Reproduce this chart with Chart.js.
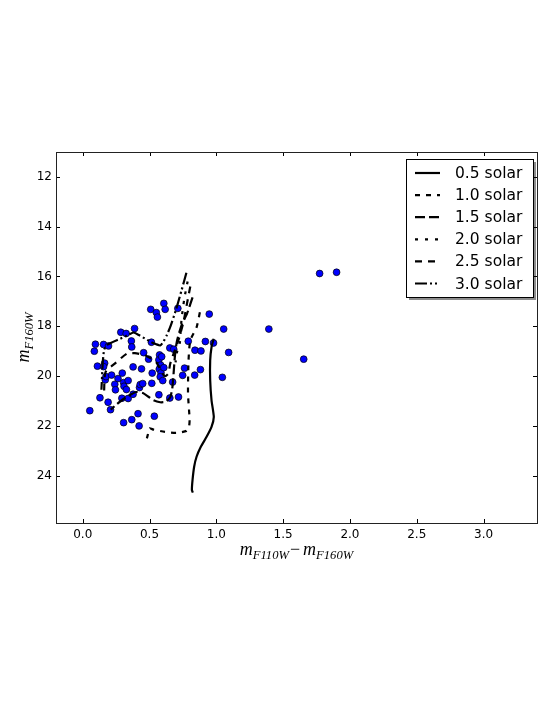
<!DOCTYPE html>
<html lang="en">
<head>
    <meta charset="UTF-8">
    <title>CMD isochrones</title>
    <script src="https://cdn.jsdelivr.net/npm/chart.js"></script>
    <style>
        html, body { margin: 0; padding: 0; background: #fff; }
        #caixa { width: 553px; height: 715px; }
    </style>
</head>
<body>
    <div id="caixa"><canvas id="grafico"></canvas></div>

    <script>
        // stars: colour (F110W - F160W) and magnitude F160W
        const starColor = [0.053, 0.087, 0.095, 0.110, 0.156, 0.164, 0.156, 0.169, 0.174, 0.129,
            0.190, 0.208, 0.193, 0.216, 0.264, 0.240, 0.245, 0.285, 0.325, 0.296,
            0.306, 0.309, 0.327, 0.340, 0.293, 0.340, 0.306, 0.367, 0.364, 0.367,
            0.377, 0.388, 0.377, 0.414, 0.422, 0.425, 0.430, 0.449, 0.440, 0.456,
            0.509, 0.551, 0.559, 0.607, 0.617, 0.514, 0.493, 0.520, 0.517, 0.536,
            0.570, 0.575, 0.570, 0.583, 0.573, 0.586, 0.580, 0.599, 0.591, 0.607,
            0.712, 0.652, 0.681, 0.673, 0.652, 0.717, 0.762, 0.748, 0.790, 0.840,
            0.838, 0.885, 0.881, 0.918, 0.947, 0.979, 1.055, 1.092, 1.045, 1.393,
            1.654, 1.773, 1.900];
        const starMag = [21.39, 19.00, 18.72, 19.60, 18.73, 19.48, 19.62, 20.15, 20.02, 20.87,
            21.05, 21.35, 18.79, 19.96, 20.10, 20.33, 20.55, 18.24, 18.29, 19.88,
            20.26, 20.41, 20.54, 20.18, 20.89, 20.90, 21.87, 21.75, 18.59, 18.83,
            19.63, 18.09, 20.73, 21.51, 22.00, 20.46, 20.34, 20.30, 19.71, 19.06,
            17.32, 17.45, 17.63, 17.08, 17.32, 18.64, 19.32, 19.88, 20.29, 21.61,
            20.75, 19.15, 19.35, 19.56, 19.72, 19.87, 20.03, 20.18, 19.22, 19.66,
            17.28, 18.87, 18.92, 20.24, 20.88, 20.84, 19.68, 19.97, 18.60, 18.96,
            19.96, 18.99, 19.74, 18.61, 17.51, 18.67, 18.11, 19.05, 20.05, 18.11,
            19.32, 15.88, 15.83];

        // isochrones
        const iso05Color = [0.980, 0.964, 0.954, 0.954, 0.964, 0.981, 0.964, 0.927, 0.884, 0.852, 0.834, 0.822, 0.817, 0.824];
        const iso05Mag = [18.50, 18.84, 19.37, 20.17, 20.97, 21.64, 22.04, 22.44, 22.84, 23.24, 23.64, 24.17, 24.57, 24.68];

        const iso10Color = [0.877, 0.852, 0.805, 0.792, 0.788, 0.800, 0.795, 0.777, 0.700, 0.615, 0.530, 0.500, 0.490, 0.480];
        const iso10Mag = [17.44, 18.04, 18.57, 19.37, 20.70, 21.75, 22.05, 22.20, 22.28, 22.24, 22.15, 22.10, 22.30, 22.50];

        const iso15Color = [0.822, 0.780, 0.740, 0.705, 0.690, 0.680, 0.670, 0.655, 0.620, 0.580, 0.530, 0.490, 0.450, 0.400, 0.340, 0.290, 0.240, 0.210];
        const iso15Mag = [16.84, 17.50, 17.95, 18.60, 19.20, 19.90, 20.50, 20.85, 21.03, 21.05, 20.97, 20.82, 20.68, 20.64, 20.80, 20.98, 21.20, 21.35];

        const iso20Color = [0.785, 0.760, 0.740, 0.733, 0.727, 0.705, 0.695];
        const iso20Mag = [16.20, 16.90, 17.70, 18.20, 18.65, 19.05, 19.45];

        const iso25Color = [0.805, 0.780, 0.755, 0.720, 0.680, 0.655, 0.640, 0.615, 0.590, 0.550, 0.470, 0.390, 0.330, 0.240, 0.170, 0.160];
        const iso25Mag = [16.40, 17.10, 17.80, 18.50, 19.10, 19.50, 19.90, 20.00, 19.84, 19.44, 19.17, 19.08, 19.10, 19.50, 19.85, 20.60];

        const iso30Color = [0.776, 0.740, 0.700, 0.660, 0.630, 0.600, 0.580, 0.550, 0.500, 0.420, 0.380, 0.340, 0.280, 0.180, 0.160, 0.150, 0.145, 0.140];
        const iso30Mag = [15.85, 16.55, 17.30, 17.95, 18.35, 18.65, 18.77, 18.72, 18.60, 18.35, 18.25, 18.35, 18.50, 18.75, 18.95, 19.45, 20.00, 20.55];

        const isoLabels = ['0.5 solar', '1.0 solar', '1.5 solar', '2.0 solar', '2.5 solar', '3.0 solar'];
        const isoDashes = [[], [5, 6], [10, 4], [3, 7], [7, 6], [12, 3, 2, 3, 2, 3]];
        const isoCurves = [
            [iso05Color, iso05Mag], [iso10Color, iso10Mag], [iso15Color, iso15Mag],
            [iso20Color, iso20Mag], [iso25Color, iso25Mag], [iso30Color, iso30Mag]
        ];

        function pares(xs, ys) {
            return xs.map((x, i) => ({ x: x, y: ys[i] }));
        }

        const datasets = isoCurves.map((c, i) => ({
            label: isoLabels[i],
            data: pares(c[0], c[1]),
            showLine: true,
            borderColor: '#000',
            borderWidth: 2.2,
            borderDash: isoDashes[i],
            pointRadius: 0,
            tension: 0.2
        }));
        datasets.push({
            data: pares(starColor, starMag),
            pointRadius: 3.4,
            pointBackgroundColor: '#0000ff',
            pointBorderColor: '#000',
            pointBorderWidth: 0.7,
            showLine: false
        });

        // axis titles with subscripts, drawn like mathtext
        function escreveMath(ctx, partes, cx, base) {
            let total = 0;
            partes.forEach(p => {
                ctx.font = 'italic ' + p.size + 'px "Liberation Serif"';
                p.w = ctx.measureText(p.t).width + (p.gap || 0);
                total += p.w;
            });
            let x = cx - total / 2;
            partes.forEach(p => {
                ctx.font = (p.upright ? '' : 'italic ') + p.size + 'px "Liberation Serif"';
                ctx.fillText(p.t, x + (p.gap || 0) / 2, base + (p.sub ? 4 : 0));
                x += p.w;
            });
        }

        const moldura = {
            id: 'moldura',
            afterDraw(chart) {
                const ctx = chart.ctx;
                const a = chart.chartArea;
                const sx = chart.scales.x;
                const sy = chart.scales.y;
                ctx.save();

                // inward ticks on all four sides
                ctx.strokeStyle = '#000';
                ctx.lineWidth = 1;
                ctx.beginPath();
                sx.ticks.forEach(t => {
                    const p = Math.round(sx.getPixelForValue(t.value)) + 0.5;
                    ctx.moveTo(p, a.bottom); ctx.lineTo(p, a.bottom - 4);
                    ctx.moveTo(p, a.top); ctx.lineTo(p, a.top + 4);
                });
                sy.ticks.forEach(t => {
                    const p = Math.round(sy.getPixelForValue(t.value)) + 0.5;
                    ctx.moveTo(a.left, p); ctx.lineTo(a.left + 4, p);
                    ctx.moveTo(a.right, p); ctx.lineTo(a.right - 4, p);
                });
                ctx.stroke();
                ctx.strokeStyle = '#222';
                ctx.strokeRect(Math.round(a.left) + 0.5, Math.round(a.top) + 0.5,
                    Math.round(a.right - a.left), Math.round(a.bottom - a.top));

                // legend with shadow
                const itens = chart.data.datasets.filter(d => d.label);
                const bx = a.right - 131, by = a.top + 7, bw = 127, bh = 138;
                ctx.fillStyle = 'rgba(0,0,0,0.45)';
                ctx.fillRect(bx + 3, by + 3, bw, bh);
                ctx.fillStyle = '#fff';
                ctx.fillRect(bx, by, bw, bh);
                ctx.strokeStyle = '#000';
                ctx.lineWidth = 1;
                ctx.strokeRect(Math.round(bx) + 0.5, Math.round(by) + 0.5, bw, bh);
                ctx.font = '15.5px "DejaVu Sans"';
                ctx.textBaseline = 'middle';
                itens.forEach((d, i) => {
                    const yy = by + 14 + i * 22.1;
                    ctx.beginPath();
                    ctx.setLineDash(d.borderDash || []);
                    ctx.lineWidth = d.borderWidth;
                    ctx.strokeStyle = d.borderColor;
                    ctx.moveTo(bx + 9, yy);
                    ctx.lineTo(bx + 34, yy);
                    ctx.stroke();
                    ctx.setLineDash([]);
                    ctx.fillStyle = '#000';
                    ctx.fillText(d.label, bx + 49, yy + 1);
                });

                // axis titles
                ctx.fillStyle = '#000';
                ctx.textBaseline = 'alphabetic';
                ctx.textAlign = 'left';
                escreveMath(ctx, [
                    { t: 'm', size: 18 },
                    { t: 'F110W', size: 12.6, sub: true },
                    { t: '\u2212', size: 18, upright: true, gap: 2 },
                    { t: 'm', size: 18 },
                    { t: 'F160W', size: 12.6, sub: true }
                ], (a.left + a.right) / 2, 555);
                ctx.translate(29, (a.top + a.bottom) / 2);
                ctx.rotate(-Math.PI / 2);
                escreveMath(ctx, [
                    { t: 'm', size: 18 },
                    { t: 'F160W', size: 12.6, sub: true }
                ], 0, 0);
                ctx.restore();
            }
        };

        const fonteTicks = { family: 'DejaVu Sans', size: 12 };

        const configuracoes = {
            type: 'scatter',
            data: { datasets: datasets },
            options: {
                responsive: true,
                maintainAspectRatio: false,
                animation: false,
                layout: { padding: { left: 0, right: 16, top: 152, bottom: 0 } },
                plugins: { legend: { display: false }, tooltip: { enabled: false } },
                scales: {
                    x: {
                        type: 'linear',
                        min: -0.2,
                        max: 3.4,
                        grid: { display: false, drawTicks: false },
                        border: { display: false },
                        ticks: {
                            stepSize: 0.5,
                            includeBounds: false,
                            maxRotation: 0,
                            autoSkip: false,
                            padding: 5,
                            color: '#000',
                            font: fonteTicks,
                            callback: v => Number(v).toFixed(1)
                        },
                        afterFit: s => { s.height = 192; }
                    },
                    y: {
                        type: 'linear',
                        min: 11,
                        max: 25.9,
                        reverse: true,
                        grid: { display: false, drawTicks: false },
                        border: { display: false },
                        ticks: {
                            stepSize: 2,
                            includeBounds: false,
                            autoSkip: false,
                            padding: 4,
                            color: '#000',
                            font: fonteTicks,
                            callback: v => String(v)
                        },
                        afterFit: s => { s.width = 56; }
                    }
                }
            },
            plugins: [moldura]
        };

        const graficoCtx = document.getElementById('grafico').getContext('2d');
        const meuGrafico = new Chart(graficoCtx, configuracoes);
    </script>
</body>
</html>
